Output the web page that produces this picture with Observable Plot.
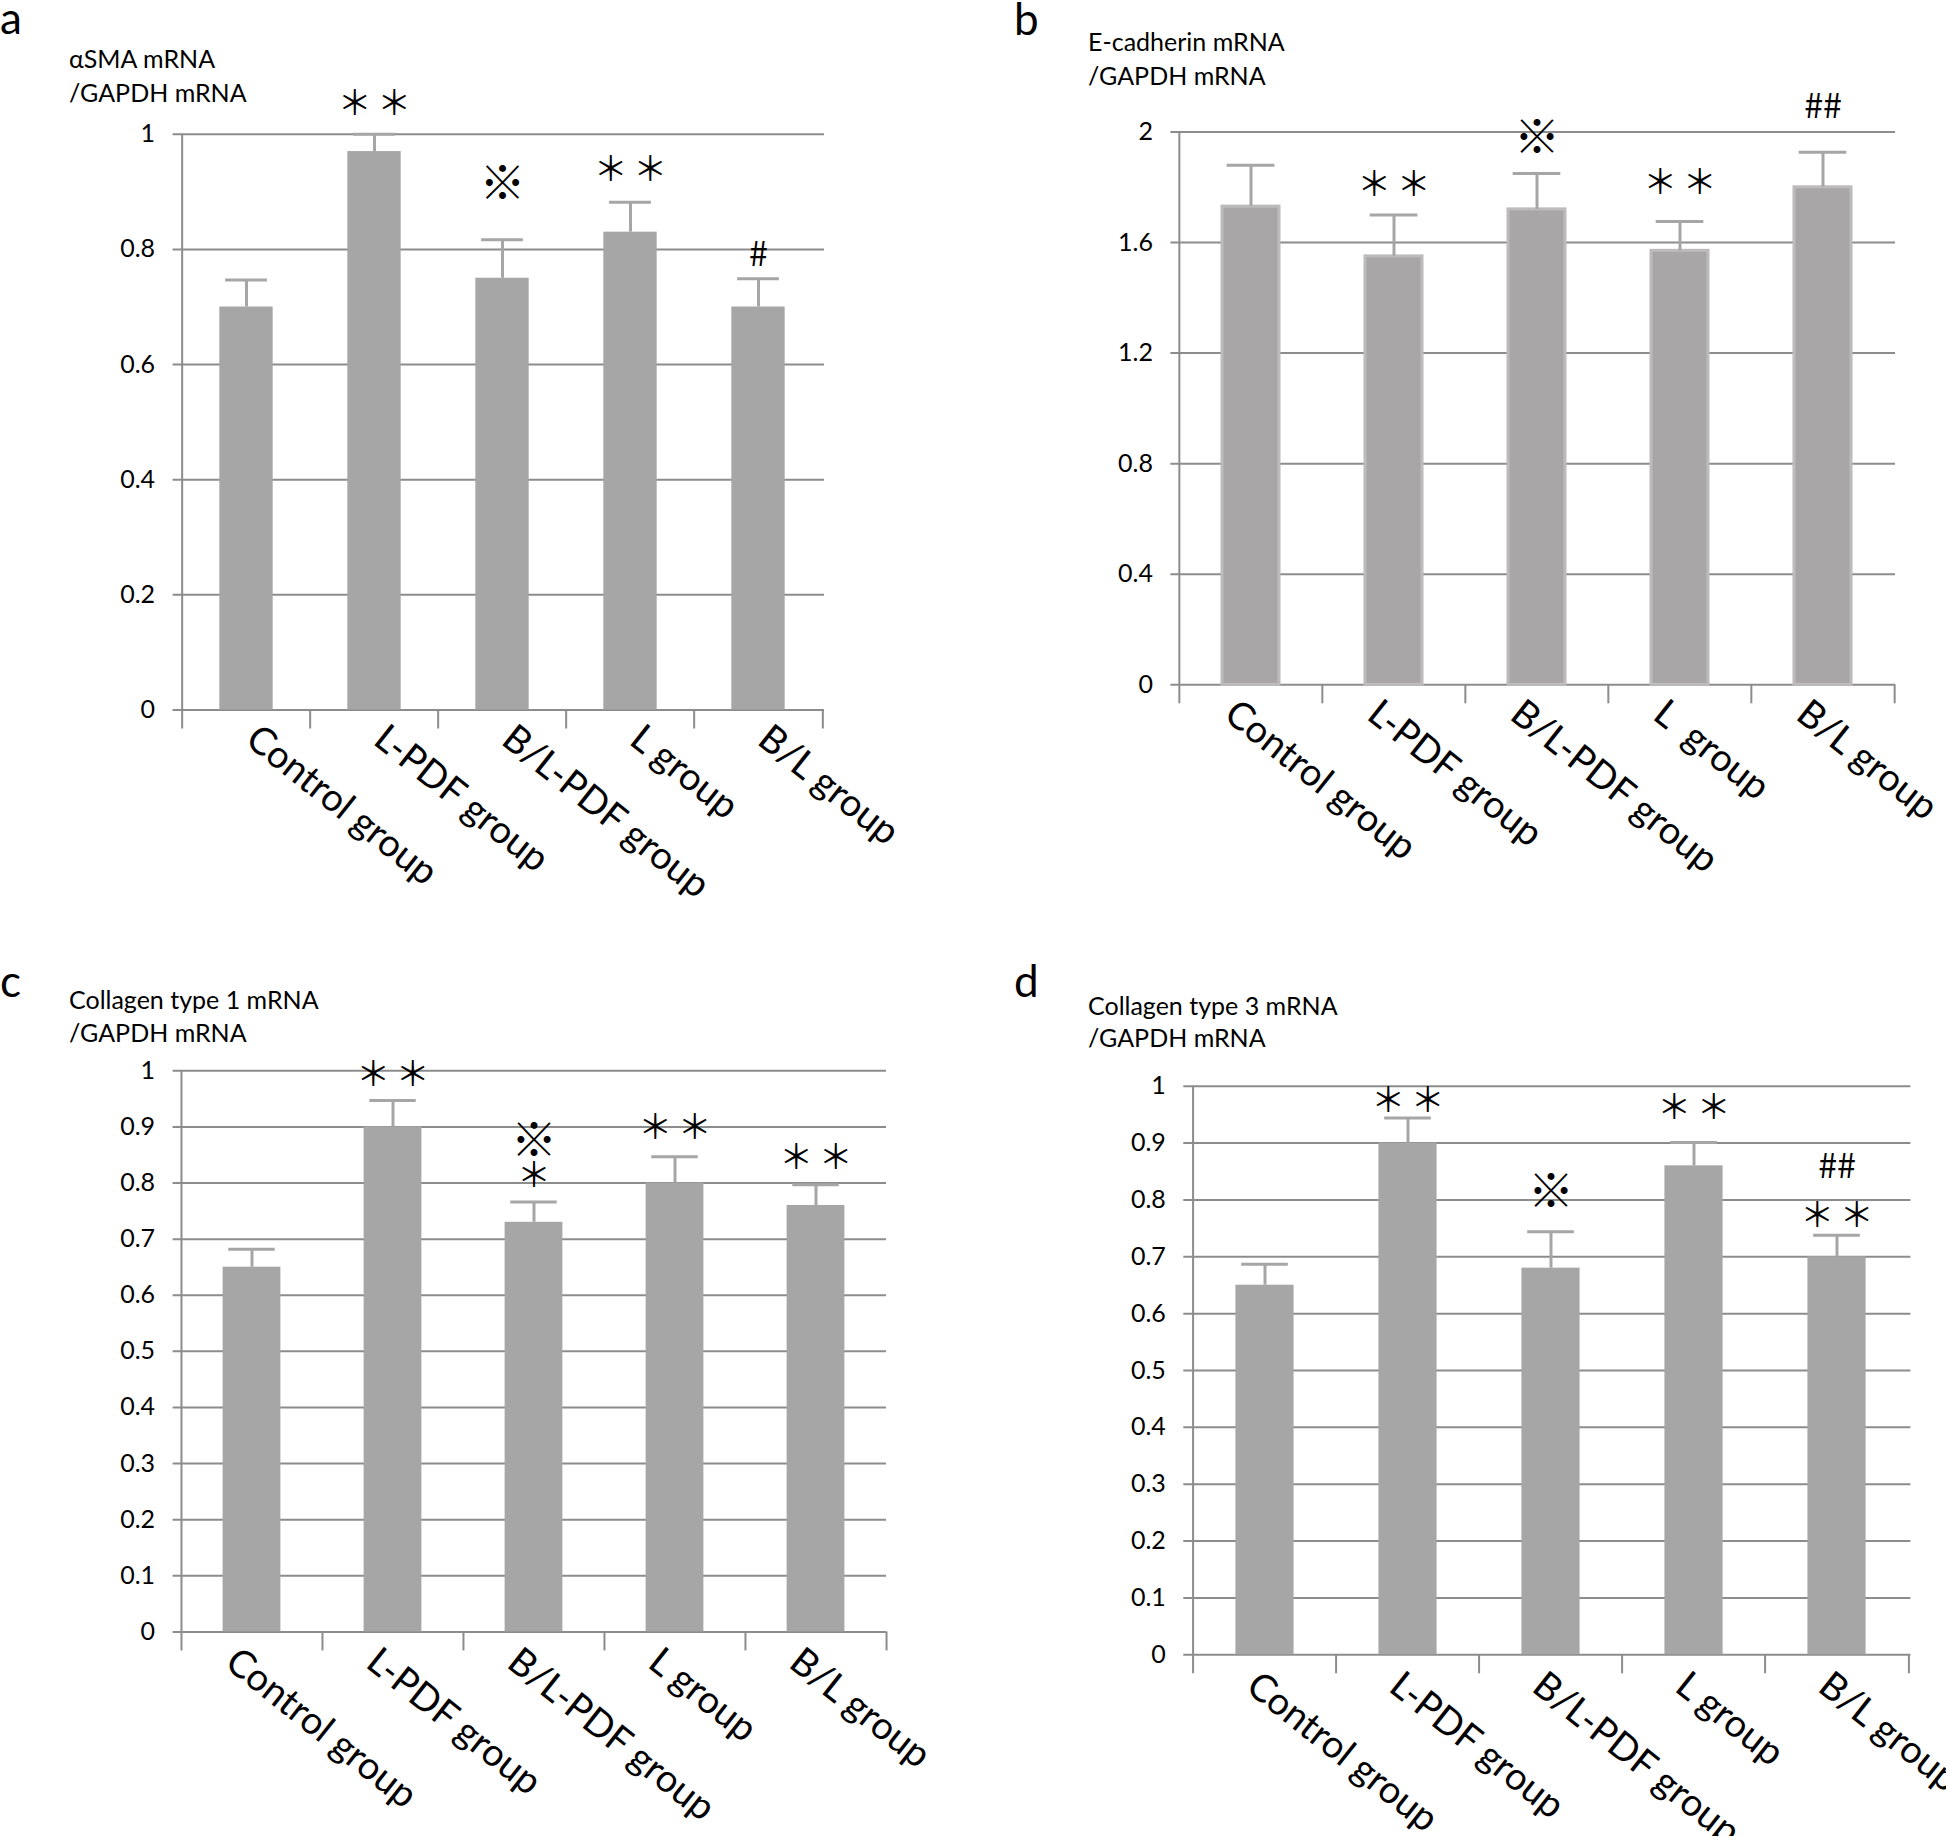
<!DOCTYPE html>
<html><head><meta charset="utf-8">
<script src="https://cdn.jsdelivr.net/npm/d3@7"></script>
<script src="https://cdn.jsdelivr.net/npm/@observablehq/plot@0.6"></script>
<style>
html,body{margin:0;padding:0;background:#fff;}
body{width:1946px;height:1836px;position:relative;overflow:hidden;font-family:Lato, sans-serif;}
.panel{position:absolute;}
.letter{position:absolute;font-size:44px;line-height:35px;color:#000;}
.ylab{position:absolute;font-size:25px;color:#000;white-space:nowrap;}
</style></head><body>
<script>
// ---- data ----
const groups = ["Control group", "L-PDF group", "B/L-PDF group", "L group", "B/L group"];
const labelsA = ["Control group", "L-PDF group", "B/L-PDF group", "L group", "B/L group"];
const labelsB = ["Control group", "L-PDF group", "B/L-PDF group", "L\u00a0\u00a0group", "B/L group"];

const ticksA = [0, 0.2, 0.4, 0.6, 0.8, 1];
const tickLabelsA = ["0", "0.2", "0.4", "0.6", "0.8", "1"];
const ticksB = [0, 0.4, 0.8, 1.2, 1.6, 2];
const tickLabelsB = ["0", "0.4", "0.8", "1.2", "1.6", "2"];
const ticksCD = [0, 0.1, 0.2, 0.3, 0.4, 0.5, 0.6, 0.7, 0.8, 0.9, 1];
const tickLabelsCD = ["0", "0.1", "0.2", "0.3", "0.4", "0.5", "0.6", "0.7", "0.8", "0.9", "1"];

// a: alpha-SMA
const meanA = [0.70, 0.97, 0.75, 0.83, 0.70];
const errA  = [0.047, 0.03, 0.067, 0.052, 0.049];
const sigGroupA = ["L-PDF group", "B/L-PDF group", "L group", "B/L group"];
const sigTextA  = ["＊\u2006＊", "※", "＊\u2006＊", "#"];
const sigYA     = [1.053, 0.913, 0.938, 0.79];

// b: E-cadherin
const meanB = [1.73, 1.55, 1.72, 1.57, 1.80];
const errB  = [0.15, 0.15, 0.13, 0.106, 0.127];
const sigGroupB = ["L-PDF group", "B/L-PDF group", "L group", "B/L group"];
const sigTextB  = ["＊\u2006＊", "※", "＊\u2006＊", "##"];
const sigYB     = [1.807, 1.977, 1.815, 2.091];

// c: Collagen type 1
const meanC = [0.65, 0.90, 0.73, 0.80, 0.76];
const errC  = [0.032, 0.047, 0.036, 0.047, 0.037];
const sigGroupC = ["L-PDF group", "B/L-PDF group", "B/L-PDF group", "L group", "B/L group"];
const sigTextC  = ["＊\u2006＊", "※", "＊", "＊\u2006＊", "＊\u2006＊"];
const sigYC     = [0.992, 0.874, 0.813, 0.898, 0.845];

// d: Collagen type 3
const meanD = [0.65, 0.90, 0.68, 0.86, 0.70];
const errD  = [0.037, 0.044, 0.064, 0.041, 0.038];
const sigGroupD = ["L-PDF group", "B/L-PDF group", "L group", "B/L group", "B/L group"];
const sigTextD  = ["＊\u2006＊", "※", "＊\u2006＊", "##", "＊\u2006＊"];
const sigYD     = [0.973, 0.814, 0.962, 0.857, 0.772];

// ---- drawing ----
const GRID = "#8c8c8c";
const sigSize = t => t.includes("※") ? 46 : t.includes("#") ? 34 : 34;
function panel(c) {
  const data = groups.map((g, i) => ({g, v: c.mean[i], e: c.err[i]}));
  const ann = c.sigG.map((g, i) => ({g, t: c.sigT[i], y: c.sigY[i]}));
  const bw = (c.w - c.ml - c.mr) / groups.length;
  const ins = bw * (1 - c.barFrac) / 2;
  const capIns = bw * (1 - c.capFrac) / 2;
  const ymax = c.ticks[c.ticks.length - 1];
  const rs = {stroke: GRID, strokeWidth: 2};
  const svg = Plot.plot({
    width: c.w, height: c.h,
    marginLeft: c.ml, marginRight: c.mr, marginTop: c.mt, marginBottom: c.mb,
    x: {type: "band", domain: groups, padding: 0, axis: null},
    y: {domain: [0, ymax], axis: null},
    style: {background: "transparent", overflow: "visible", maxWidth: "none", fontFamily: "Lato, sans-serif"},
    marks: [
      Plot.ruleY(c.ticks, {y: d => d, ...rs, insetLeft: -8}),
      Plot.ruleX([groups[0]], {x: d => d, dx: -bw / 2, y1: ymax, y2: 0, insetBottom: -19, ...rs}),
      Plot.ruleX(groups.slice(1), {x: d => d, dx: -bw / 2, y1: 0, y2: 0, insetBottom: -19, ...rs}),
      Plot.ruleX([groups[groups.length - 1]], {x: d => d, dx: bw / 2, y1: 0, y2: 0, insetBottom: -19, ...rs}),
      Plot.barY(data, {x: "g", y: "v", fill: c.fill, stroke: c.barStroke || "none", strokeWidth: 3, insetLeft: ins, insetRight: ins}),
      Plot.ruleX(data, {x: "g", y1: "v", y2: d => d.v + d.e, stroke: c.errColor, strokeWidth: 3}),
      Plot.tickY(data, {x: "g", y: d => d.v + d.e, stroke: c.errColor, strokeWidth: 3, insetLeft: capIns, insetRight: capIns}),
      Plot.text(c.ticks, {y: d => d, text: (d, i) => c.tickLabels[i], frameAnchor: "left", textAnchor: "end", dx: -26, fontSize: 25, fill: "#000"}),
      Plot.text(ann, {x: "g", y: "y", text: "t", fontSize: d => sigSize(d.t), fontFamily: "Noto Sans CJK JP", fill: "#000"}),
      Plot.text(groups, {x: d => d, frameAnchor: "bottom", text: (d, i) => c.labels[i], rotate: 38.5, textAnchor: "start", lineAnchor: "top", dx: c.ldx, dy: c.ldy, fontSize: 38, fill: "#000"})
    ]
  });
  const div = document.createElement("div");
  div.className = "panel";
  div.style.left = c.left + "px";
  div.style.top = c.top + "px";
  div.appendChild(svg);
  document.body.appendChild(div);

  const letter = document.createElement("div");
  letter.className = "letter";
  letter.textContent = c.letter;
  letter.style.left = c.letterX + "px";
  letter.style.top = c.letterY + "px";
  document.body.appendChild(letter);

  const yl = document.createElement("div");
  yl.className = "ylab";
  yl.style.left = c.ylX + "px";
  yl.style.top = c.ylY + "px";
  yl.style.lineHeight = c.ylLH + "px";
  yl.innerHTML = c.ylab.join("<br>");
  document.body.appendChild(yl);
}

panel({left: 0, top: 0, w: 970, h: 940, ml: 180.6, mr: 146, mt: 133.8, mb: 230.5,
  ticks: ticksA, tickLabels: tickLabelsA, labels: labelsA, mean: meanA, err: errA,
  sigG: sigGroupA, sigT: sigTextA, sigY: sigYA, barFrac: 0.42, capFrac: 0.33,
  fill: "#a6a6a6", errColor: "#a6a6a6", ldx: 14, ldy: 12,
  letter: "a", letterX: 0, letterY: 0, ylab: ["αSMA mRNA", "/GAPDH mRNA"], ylX: 69, ylY: 41, ylLH: 34});

panel({left: 980, top: 0, w: 966, h: 940, ml: 198.4, mr: 51, mt: 131.5, mb: 255.7,
  ticks: ticksB, tickLabels: tickLabelsB, labels: labelsB, mean: meanB, err: errB,
  sigG: sigGroupB, sigT: sigTextB, sigY: sigYB, barFrac: 0.40, capFrac: 0.335,
  fill: "#a9a6a7", barStroke: "#bdbbbc", errColor: "#a6a6a6", ldx: -12, ldy: 12,
  letter: "b", letterX: 1014, letterY: 1, ylab: ["E-cadherin mRNA", "/GAPDH mRNA"], ylX: 1088, ylY: 24, ylLH: 34});

panel({left: 0, top: 940, w: 970, h: 896, ml: 180.6, mr: 84, mt: 130.3, mb: 204.6,
  ticks: ticksCD, tickLabels: tickLabelsCD, labels: labelsA, mean: meanC, err: errC,
  sigG: sigGroupC, sigT: sigTextC, sigY: sigYC, barFrac: 0.41, capFrac: 0.33,
  fill: "#a6a6a6", errColor: "#a6a6a6", ldx: -12, ldy: 13,
  letter: "c", letterX: 0, letterY: 963, ylab: ["Collagen type 1 mRNA", "/GAPDH mRNA"], ylX: 69, ylY: 983, ylLH: 33});

panel({left: 980, top: 940, w: 966, h: 896, ml: 211.3, mr: 35.6, mt: 145.7, mb: 181.7,
  ticks: ticksCD, tickLabels: tickLabelsCD, labels: labelsA, mean: meanD, err: errD,
  sigG: sigGroupD, sigT: sigTextD, sigY: sigYD, barFrac: 0.41, capFrac: 0.33,
  fill: "#a6a6a6", errColor: "#a6a6a6", ldx: -4, ldy: 14,
  letter: "d", letterX: 1014, letterY: 963, ylab: ["Collagen type 3 mRNA", "/GAPDH mRNA"], ylX: 1088, ylY: 989, ylLH: 32});
</script>
</body></html>
